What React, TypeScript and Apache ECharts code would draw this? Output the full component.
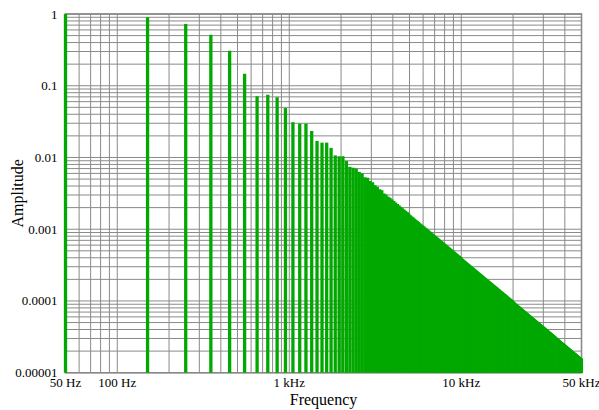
import { useEffect, useRef } from 'react';
import * as echarts from 'echarts';

// Odd harmonics of a 50 Hz fundamental: 50, 150, 250, ... 49950 Hz
const fundamentalHz = 50;
// Amplitude of each odd harmonic, in millionths of full scale
const amplitudePpm = [
  1000000, 900000, 725000, 514000, 307000, 147000, 71600, 74600, 69300, 49000,
  31000, 29700, 29700, 23400, 17000, 16100, 16100, 13600, 10700, 10400,
  10400, 8900, 7400, 7200, 7000, 6300, 6000, 5300, 5200, 4700,
  4500, 4100, 3900, 3600, 3500, 3150, 3050, 2850, 2750, 2600,
  2480, 2360, 2250, 2150, 2050, 1960, 1880, 1800, 1730, 1660,
  1570, 1510, 1460, 1400, 1350, 1300, 1260, 1210, 1170, 1130,
  1100, 1060, 1030, 996, 965, 936, 908, 881, 856, 831,
  808, 785, 764, 743, 723, 704, 686, 668, 652, 635,
  620, 604, 590, 576, 562, 549, 537, 524, 513, 501,
  490, 480, 469, 459, 450, 440, 431, 422, 414, 406,
  392, 384, 377, 370, 363, 356, 349, 343, 336, 330,
  324, 319, 313, 307, 302, 297, 292, 287, 282, 277,
  273, 268, 264, 260, 255, 251, 247, 244, 240, 236,
  233, 229, 226, 222, 219, 216, 213, 209, 206, 203,
  201, 198, 195, 192, 190, 187, 185, 182, 180, 177,
  175, 173, 170, 168, 166, 164, 162, 160, 158, 156,
  154, 152, 150, 148, 146, 145, 143, 141, 139, 138,
  136, 135, 133, 132, 130, 129, 127, 126, 124, 123,
  122, 120, 119, 118, 116, 115, 114, 113, 111, 110,
  109, 108, 107, 106, 105, 104, 103, 102, 101, 99,
  97.2, 96.2, 95.3, 94.4, 93.4, 92.5, 91.6, 90.8, 89.9, 89.0,
  88.2, 87.4, 86.5, 85.7, 84.9, 84.1, 83.4, 82.6, 81.8, 81.1,
  80.4, 79.6, 78.9, 78.2, 77.5, 76.8, 76.2, 75.5, 74.8, 74.2,
  73.5, 72.9, 72.3, 71.7, 71.1, 70.5, 69.9, 69.3, 68.7, 68.1,
  67.6, 67.0, 66.4, 65.9, 65.4, 64.8, 64.3, 63.8, 63.3, 62.8,
  62.3, 61.8, 61.3, 60.8, 60.3, 59.9, 59.4, 58.9, 58.5, 58.0,
  57.6, 57.1, 56.7, 56.3, 55.9, 55.4, 55.0, 54.6, 54.2, 53.8,
  53.4, 53.0, 52.6, 52.2, 51.9, 51.5, 51.1, 50.7, 50.4, 50.0,
  49.7, 49.3, 49.0, 48.6, 48.3, 47.9, 47.6, 47.3, 46.9, 46.6,
  46.3, 46.0, 45.7, 45.4, 45.1, 44.7, 44.4, 44.2, 43.9, 43.6,
  43.3, 43.0, 42.7, 42.4, 42.1, 41.9, 41.6, 41.3, 41.1, 40.8,
  40.5, 40.3, 40.0, 39.8, 39.5, 39.3, 39.0, 38.8, 38.5, 38.3,
  38.0, 37.8, 37.6, 37.3, 37.1, 36.9, 36.7, 36.4, 36.2, 36.0,
  35.8, 35.6, 35.3, 35.1, 34.9, 34.7, 34.5, 34.3, 34.1, 33.9,
  33.7, 33.5, 33.3, 33.1, 32.9, 32.7, 32.5, 32.4, 32.2, 32.0,
  31.7, 31.4, 31.2, 31.0, 30.8, 30.7, 30.5, 30.3, 30.2, 30.0,
  29.8, 29.7, 29.5, 29.3, 29.2, 29.0, 28.8, 28.7, 28.5, 28.4,
  28.2, 28.1, 27.9, 27.8, 27.6, 27.5, 27.3, 27.2, 27.0, 26.9,
  26.8, 26.6, 26.5, 26.3, 26.2, 26.1, 25.9, 25.8, 25.7, 25.5,
  25.4, 25.3, 25.2, 25.0, 24.9, 24.8, 24.6, 24.5, 24.4, 24.3,
  24.2, 24.0, 23.9, 23.8, 23.7, 23.6, 23.5, 23.3, 23.2, 23.1,
  23.0, 22.9, 22.8, 22.7, 22.6, 22.4, 22.3, 22.2, 22.1, 22.0,
  21.9, 21.8, 21.7, 21.6, 21.5, 21.4, 21.3, 21.2, 21.1, 21.0,
  20.9, 20.8, 20.7, 20.6, 20.5, 20.4, 20.3, 20.2, 20.2, 20.1,
  20.0, 19.9, 19.8, 19.7, 19.6, 19.5, 19.4, 19.4, 19.3, 19.2,
  19.1, 19.0, 18.9, 18.8, 18.8, 18.7, 18.6, 18.5, 18.4, 18.4,
  18.3, 18.2, 18.1, 18.0, 18.0, 17.9, 17.8, 17.7, 17.7, 17.6,
  17.5, 17.4, 17.4, 17.3, 17.2, 17.1, 17.1, 17.0, 16.9, 16.9,
  16.8, 16.7, 16.6, 16.6, 16.5, 16.4, 16.4, 16.3, 16.2, 16.2,
  16.1, 16.0, 16.0, 15.9, 15.8, 15.8, 15.7, 15.7, 15.6, 15.5,
];

const xTickValues = [50, 100, 1000, 10000, 50000];
const xTickLabels = ['50 Hz', '100 Hz', '1 kHz', '10 kHz', '50 kHz'];
const yTickValues = [0.00001, 0.0001, 0.001, 0.01, 0.1, 1];
const yTickLabels = ['0.00001', '0.0001', '0.001', '0.01', '0.1', '1'];

const xGridHz = [
  50, 60, 70, 80, 90,
  100, 200, 300, 400, 500, 600, 700, 800, 900,
  1000, 2000, 3000, 4000, 5000, 6000, 7000, 8000, 9000,
  10000, 20000, 30000, 40000, 50000,
];
const yGridDecades = [0.00001, 0.0001, 0.001, 0.01, 0.1];
const yGridMantissas = [1, 2, 3, 4, 5, 6, 7, 8, 9];

const FONT = "'Liberation Serif', 'Times New Roman', serif";

function labelPicker(values: number[], labels: string[]) {
  return (v: number) => {
    let best = -1;
    let bd = Infinity;
    values.forEach((t, i) => {
      const d = Math.abs(Math.log10(t) - Math.log10(v));
      if (d < bd) {
        bd = d;
        best = i;
      }
    });
    return bd < 0.02 ? labels[best] : '';
  };
}

export default function App() {
  const ref = useRef<HTMLDivElement>(null);

  useEffect(() => {
    if (!ref.current) return;
    const chart = echarts.init(ref.current, null, { renderer: 'svg' });

    const xMin = xTickValues[0];
    const xMax = xTickValues[xTickValues.length - 1];
    const yMin = yTickValues[0];
    const yMax = yTickValues[yTickValues.length - 1];

    const barData = amplitudePpm.map((a, i) => [fundamentalHz * (2 * i + 1), a / 1e6]);
    const xGridData = xGridHz.map((v) => [v, yMax]);
    const yGridData: number[][] = [];
    yGridDecades.forEach((d) => yGridMantissas.forEach((m) => yGridData.push([xMin, d * m])));
    yGridData.push([xMin, yMax]);

    const gridColor = '#8a8a8a';

    chart.setOption({
      animation: false,
      textStyle: { fontFamily: FONT },
      grid: {
        left: 65.5,
        right: 17.5,
        top: 14,
        bottom: 37.3,
        containLabel: false,
        outerBoundsMode: 'none',
        show: true,
        borderColor: '#7a7a7a',
        borderWidth: 1.5,
        backgroundColor: '#fff',
      },
      xAxis: {
        type: 'log',
        logBase: 10,
        min: xMin,
        max: xMax,
        name: 'Frequency',
        nameLocation: 'middle',
        nameGap: 19,
        nameMoveOverlap: false,
        nameTextStyle: { fontFamily: FONT, fontSize: 16, color: '#000' },
        axisLine: { show: false },
        axisTick: { show: false },
        splitLine: { show: false },
        axisLabel: {
          fontFamily: FONT,
          fontSize: 13,
          color: '#000',
          margin: 3,
          hideOverlap: false,
          formatter: labelPicker(xTickValues, xTickLabels),
        },
      },
      yAxis: {
        type: 'log',
        logBase: 10,
        min: yMin,
        max: yMax,
        name: 'Amplitude',
        nameLocation: 'middle',
        nameGap: 40,
        nameMoveOverlap: false,
        nameTextStyle: { fontFamily: FONT, fontSize: 16, color: '#000' },
        axisLine: { show: false },
        axisTick: { show: false },
        splitLine: { show: false },
        axisLabel: {
          fontFamily: FONT,
          fontSize: 13,
          color: '#000',
          margin: 8,
          hideOverlap: false,
          formatter: labelPicker(yTickValues, yTickLabels),
        },
      },
      series: [
        {
          type: 'custom',
          silent: true,
          z: 1,
          data: xGridData,
          renderItem: (params: any, api: any) => {
            const p = api.coord([api.value(0), api.value(1)]);
            const cs = params.coordSys;
            return {
              type: 'line',
              shape: { x1: p[0], y1: cs.y, x2: p[0], y2: cs.y + cs.height },
              style: { stroke: gridColor, lineWidth: 1 },
            };
          },
        },
        {
          type: 'custom',
          silent: true,
          z: 1,
          data: yGridData,
          renderItem: (params: any, api: any) => {
            const p = api.coord([api.value(0), api.value(1)]);
            const cs = params.coordSys;
            return {
              type: 'line',
              shape: { x1: cs.x, y1: p[1], x2: cs.x + cs.width, y2: p[1] },
              style: { stroke: gridColor, lineWidth: 1 },
            };
          },
        },
        {
          type: 'custom',
          silent: true,
          z: 2,
          data: barData,
          renderItem: (_params: any, api: any) => {
            const f = api.value(0);
            const a = api.value(1);
            const top = api.coord([f, a]);
            const bottom = api.coord([f, yMin]);
            const w = 3.3;
            return {
              type: 'rect',
              shape: { x: top[0] - w / 2, y: top[1], width: w, height: bottom[1] - top[1] },
              style: { fill: '#00a800' },
            };
          },
        },
      ],
    });

    return () => chart.dispose();
  }, []);

  return (
    <div
      ref={ref}
      style={{ position: 'fixed', left: 0, top: 0, width: 599, height: 410, background: '#fff' }}
    />
  );
}
